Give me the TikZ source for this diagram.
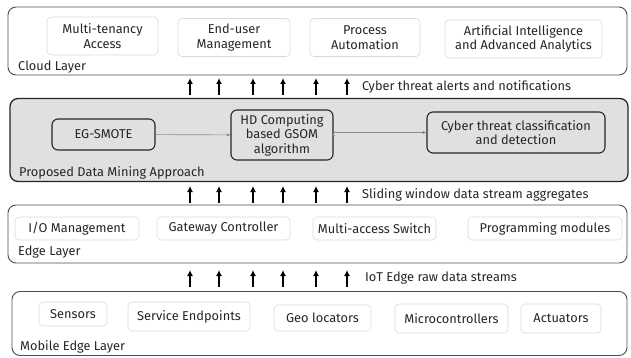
\documentclass[tikz,border=0pt]{standalone}
\usepackage{fontspec}
\setmainfont{Fira Sans}
\usetikzlibrary{arrows.meta}

\tikzset{
  layer/.style={draw=black!70,line width=0.9pt,rounded corners=8pt},
  item/.style={draw=black!15,line width=0.6pt,rounded corners=4pt,fill=white,align=center,inner sep=1pt},
  stage/.style={draw=black!85,line width=1.1pt,rounded corners=6pt,fill=black!12,align=center,inner sep=1pt},
  lbl/.style={anchor=west,inner sep=0pt},
  flow/.style={-{Latex[length=6pt,width=6pt]},line width=1.5pt},
  thin flow/.style={-{Stealth[length=4pt,width=3pt]},draw=black!45,line width=0.6pt}
}

\begin{document}
\begin{tikzpicture}[x=1pt,y=-1pt,font=\fontsize{12.8}{14.5}\selectfont,text=black!85]

      \useasboundingbox (0,0) rectangle (631,358);

      % layers
      \node[layer,minimum width=619pt,minimum height=68pt] (cloud) at (317.5,41) {};
      \node[layer,fill=black!12,draw=black!85,line width=1.3pt,minimum width=618pt,minimum height=83pt] (mining) at (319,140) {};
      \node[layer,minimum width=619pt,minimum height=58pt] (edge) at (317.5,234) {};
      \node[layer,minimum width=615pt,minimum height=64pt] (mobile) at (319.5,323.5) {};

      \node[lbl] (cloudlbl)  at (18,67)  {Cloud Layer};
      \node[lbl] (mininglbl) at (19,173) {Proposed Data Mining Approach};
      \node[lbl] (edgelbl)   at (18,252) {Edge Layer};
      \node[lbl] (mobilelbl) at (20,347) {Mobile Edge Layer};

      % cloud layer
      \begin{scope}[every node/.style={item,minimum height=38pt}]
        \node[minimum width=111pt] (mta)  at (102.5,36) {Multi-tenancy\\Access};
        \node[minimum width=112pt] (eum)  at (234,37.5) {End-user\\Management};
        \node[minimum width=110pt] (pa)   at (365,37.5) {Process\\Automation};
        \node[minimum width=157pt] (aiaa) at (523.5,39) {Artificial Intelligence\\and Advanced Analytics};
      \end{scope}

      % data mining
      \node[stage,minimum width=103pt,minimum height=31pt] (egs) at (103.5,134.5) {EG-SMOTE};
      \node[stage,minimum width=102pt,minimum height=50pt] (hdc) at (282,135) {HD Computing\\based GSOM\\algorithm};
      \node[stage,minimum width=178pt,minimum height=41pt] (cls) at (516,132.5) {Cyber threat classification\\and detection};
      \path[thin flow] (egs) edge (hdc);
      \path[thin flow] (hdc.east |- cls.west) edge (cls.west);

      % edge layer
      \begin{scope}[every node/.style={item,minimum height=23pt}]
        \node[minimum width=124pt] (io)  at (77,228.5)    {I/O Management};
        \node[minimum width=133pt] (gw)  at (223.5,228.5) {Gateway Controller};
        \node[minimum width=123pt] (mas) at (374.5,228.5) {Multi-access Switch};
        \node[minimum width=154pt] (pm)  at (545,228.5)   {Programming modules};
      \end{scope}

      % mobile edge layer
      \begin{scope}[every node/.style={item,minimum height=27pt}]
        \node[minimum width=68pt,minimum height=24pt] (sen) at (73,314) {Sensors};
        \node[minimum width=122pt,minimum height=29pt] (sep) at (189,316.5) {Service Endpoints};
        \node[minimum width=97pt,minimum height=26pt] (geo) at (322.5,318) {Geo locators};
        \node[minimum width=113pt,minimum height=29pt] (mcu) at (451.5,318.5) {Microcontrollers};
        \node[minimum width=80pt,minimum height=29pt] (act) at (561,318.5) {Actuators};
      \end{scope}

      % arrows between layers
      \coordinate (a1) at (190,95);  \coordinate (a2) at (219,95);  \coordinate (a3) at (253,95);
      \coordinate (a4) at (283,95);  \coordinate (a5) at (316,95);  \coordinate (a6) at (347,95);
      \coordinate (b1) at (190,203); \coordinate (b2) at (219,203); \coordinate (b3) at (253,203);
      \coordinate (b4) at (283,203); \coordinate (b5) at (316,203); \coordinate (b6) at (347,203);
      \coordinate (c1) at (190,287); \coordinate (c2) at (219,287); \coordinate (c3) at (253,287);
      \coordinate (c4) at (283,287); \coordinate (c5) at (316,287); \coordinate (c6) at (347,287);

      \draw[flow] (a1) -- ++(0,-17); \draw[flow] (a2) -- ++(0,-17); \draw[flow] (a3) -- ++(0,-17);
      \draw[flow] (a4) -- ++(0,-17); \draw[flow] (a5) -- ++(0,-17); \draw[flow] (a6) -- ++(0,-17);
      \draw[flow] (b1) -- ++(0,-17); \draw[flow] (b2) -- ++(0,-17); \draw[flow] (b3) -- ++(0,-17);
      \draw[flow] (b4) -- ++(0,-17); \draw[flow] (b5) -- ++(0,-17); \draw[flow] (b6) -- ++(0,-17);
      \draw[flow] (c1) -- ++(0,-17); \draw[flow] (c2) -- ++(0,-17); \draw[flow] (c3) -- ++(0,-17);
      \draw[flow] (c4) -- ++(0,-17); \draw[flow] (c5) -- ++(0,-17); \draw[flow] (c6) -- ++(0,-17);

      \node[lbl] (alerts) at (362,87)  {Cyber threat alerts and notifications};
      \node[lbl] (slide)  at (362,195) {Sliding window data stream aggregates};
      \node[lbl] (raw)    at (365,278) {IoT Edge raw data streams};

    \end{tikzpicture}
\end{document}
